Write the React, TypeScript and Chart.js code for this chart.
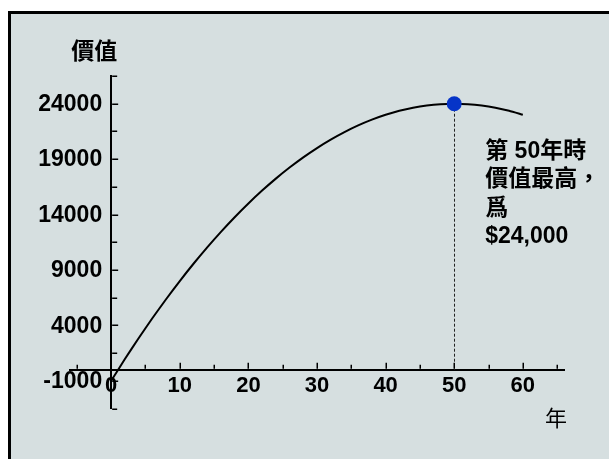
import { useEffect, useRef } from "react";
import { Chart, registerables } from "chart.js";

Chart.register(...registerables);

// Value of the asset by year
const years = [0, 2, 4, 6, 8, 10, 12, 14, 16, 18, 20, 22, 24, 26, 28, 30, 32, 34, 36, 38, 40, 42, 44, 46, 48, 50, 52, 54, 56, 58, 60];
const values = [-1000, 960, 2840, 4640, 6360, 8000, 9560, 11040, 12440, 13760, 15000, 16160, 17240, 18240, 19160, 20000, 20760, 21440, 22040, 22560, 23000, 23360, 23640, 23840, 23960, 24000, 23960, 23840, 23640, 23360, 23000];

// Highest value
const peakYear = 50;
const peakValue = 24000;

// Axis ticks and which of them carry labels
const xTickValues = [-5, 0, 5, 10, 15, 20, 25, 30, 35, 40, 45, 50, 55, 60, 65];
const xLabelValues = [0, 10, 20, 30, 40, 50, 60];
const yTickValues = [-3500, -1000, 1500, 4000, 6500, 9000, 11500, 14000, 16500, 19000, 21500, 24000, 26500];
const yLabelValues = [-1000, 4000, 9000, 14000, 19000, 24000];

const yTitle = "價值";
const xTitle = "年";
const noteLines = ["第 50年時", "價值最高，", "爲", "$24,000"];

const LATIN = '"Liberation Sans", Arial, Helvetica, sans-serif';
const CJK = '"Liberation Sans", "Noto Sans CJK TC", "Noto Sans CJK SC", sans-serif';

const decorPlugin = {
  id: "decor",
  beforeDatasetsDraw(chart: any) {
    const { ctx } = chart;
    const x = chart.scales.x;
    const y = chart.scales.y;
    const x0 = x.getPixelForValue(0);
    const y0 = y.getPixelForValue(0);
    ctx.save();

    // dashed drop line from the peak down to the year axis
    const px = Math.round(x.getPixelForValue(peakYear)) + 0.5;
    ctx.strokeStyle = "#222";
    ctx.lineWidth = 1;
    ctx.setLineDash([3, 2]);
    ctx.beginPath();
    ctx.moveTo(px, y.getPixelForValue(peakValue));
    ctx.lineTo(px, y0);
    ctx.stroke();
    ctx.setLineDash([]);

    // inward tick marks
    ctx.strokeStyle = "#000";
    ctx.lineWidth = 1.5;
    ctx.beginPath();
    for (const v of xTickValues) {
      if (v === 0) continue;
      const tx = Math.round(x.getPixelForValue(v)) + 0.25;
      const len = v % 10 === 0 ? 6 : 4;
      ctx.moveTo(tx, y0 - 1);
      ctx.lineTo(tx, y0 - 1 - len);
    }
    for (const v of yTickValues) {
      const ty = Math.round(y.getPixelForValue(v)) + 0.25;
      const len = yLabelValues.includes(v) ? 6 : 5;
      ctx.moveTo(x0 + 1, ty);
      ctx.lineTo(x0 + 1 + len, ty);
    }
    ctx.stroke();
    ctx.restore();
  },
  afterDraw(chart: any) {
    const { ctx, chartArea } = chart;
    const x = chart.scales.x;
    const y = chart.scales.y;
    const x0 = x.getPixelForValue(0);
    ctx.save();
    ctx.fillStyle = "#000";
    ctx.textBaseline = "middle";

    // value labels, right-aligned against the value axis
    ctx.font = `bold 23px ${LATIN}`;
    ctx.textAlign = "right";
    for (const v of yLabelValues) {
      ctx.fillText(String(v), x0 - 9, y.getPixelForValue(v) + 1);
    }

    // axis titles
    ctx.font = `bold 23px ${CJK}`;
    ctx.textAlign = "right";
    ctx.fillText(yTitle, x0 + 6, chartArea.top - 23);
    ctx.font = `22px ${CJK}`;
    ctx.textAlign = "center";
    ctx.fillText(xTitle, chartArea.right - 8, y.getPixelForValue(0) + 50);

    // note beside the peak
    ctx.font = `bold 23px ${CJK}`;
    ctx.textAlign = "left";
    const nx = x.getPixelForValue(peakYear) + 31;
    const ny = y.getPixelForValue(peakValue) + 47.5;
    noteLines.forEach((line, i) => ctx.fillText(line, nx, ny + i * 28.6));
    ctx.restore();
  },
};

export default function App() {
  const ref = useRef<HTMLCanvasElement | null>(null);

  useEffect(() => {
    if (!ref.current) return;
    const chart = new Chart(ref.current, {
      type: "line",
      data: {
        datasets: [
          {
            label: "peak",
            data: [{ x: peakYear, y: peakValue }],
            showLine: false,
            pointRadius: 7.5,
            pointBackgroundColor: "#0634c8",
            pointBorderWidth: 0,
            order: 0,
          },
          {
            label: "value",
            data: years.map((t, i) => ({ x: t, y: values[i] })),
            borderColor: "#000",
            borderWidth: 2,
            pointRadius: 0,
            tension: 0.2,
            fill: false,
            order: 1,
          },
        ],
      },
      options: {
        responsive: false,
        animation: false,
        devicePixelRatio: 1,
        layout: { padding: { left: 70, right: 45, top: 76, bottom: 50.5 } },
        plugins: { legend: { display: false }, tooltip: { enabled: false } },
        scales: {
          x: {
            type: "linear",
            min: -6,
            max: 66,
            position: { y: 0 },
            afterBuildTicks: (s: any) => {
              s.ticks = xTickValues.map((v) => ({ value: v }));
            },
            afterFit: (s: any) => {
              s.height = 0;
            },
            grid: {
              display: true,
              drawOnChartArea: false,
              drawTicks: true,
              tickLength: 3,
              tickColor: "rgba(0,0,0,0)",
            },
            border: { display: true, color: "#000", width: 2 },
            ticks: {
              autoSkip: false,
              maxRotation: 0,
              padding: 0,
              color: "#000",
              font: { family: LATIN, size: 22, weight: "bold" },
              callback: (v: any) => (xLabelValues.includes(Number(v)) ? String(v) : ""),
            },
          },
          y: {
            type: "linear",
            min: -3500,
            max: 26500,
            position: { x: 0 },
            afterBuildTicks: (s: any) => {
              s.ticks = yTickValues.map((v) => ({ value: v }));
            },
            afterFit: (s: any) => {
              s.width = 0;
            },
            grid: { display: true, drawOnChartArea: false, drawTicks: false },
            border: { display: true, color: "#000", width: 2 },
            ticks: { display: false },
          },
        },
      },
      plugins: [decorPlugin],
    } as any);
    return () => chart.destroy();
  }, []);

  return (
    <div style={{ position: "fixed", left: 0, top: 0, width: 609, height: 459, overflow: "hidden", background: "#fff" }}>
      <div
        style={{
          position: "absolute",
          left: 8,
          top: 11,
          width: 660,
          height: 500,
          borderLeft: "3px solid #000",
          borderTop: "3px solid #000",
          background: "#d6dfe0",
        }}
      />
      <canvas ref={ref} width={609} height={459} style={{ position: "absolute", left: 0, top: 0, display: "block" }} />
    </div>
  );
}
